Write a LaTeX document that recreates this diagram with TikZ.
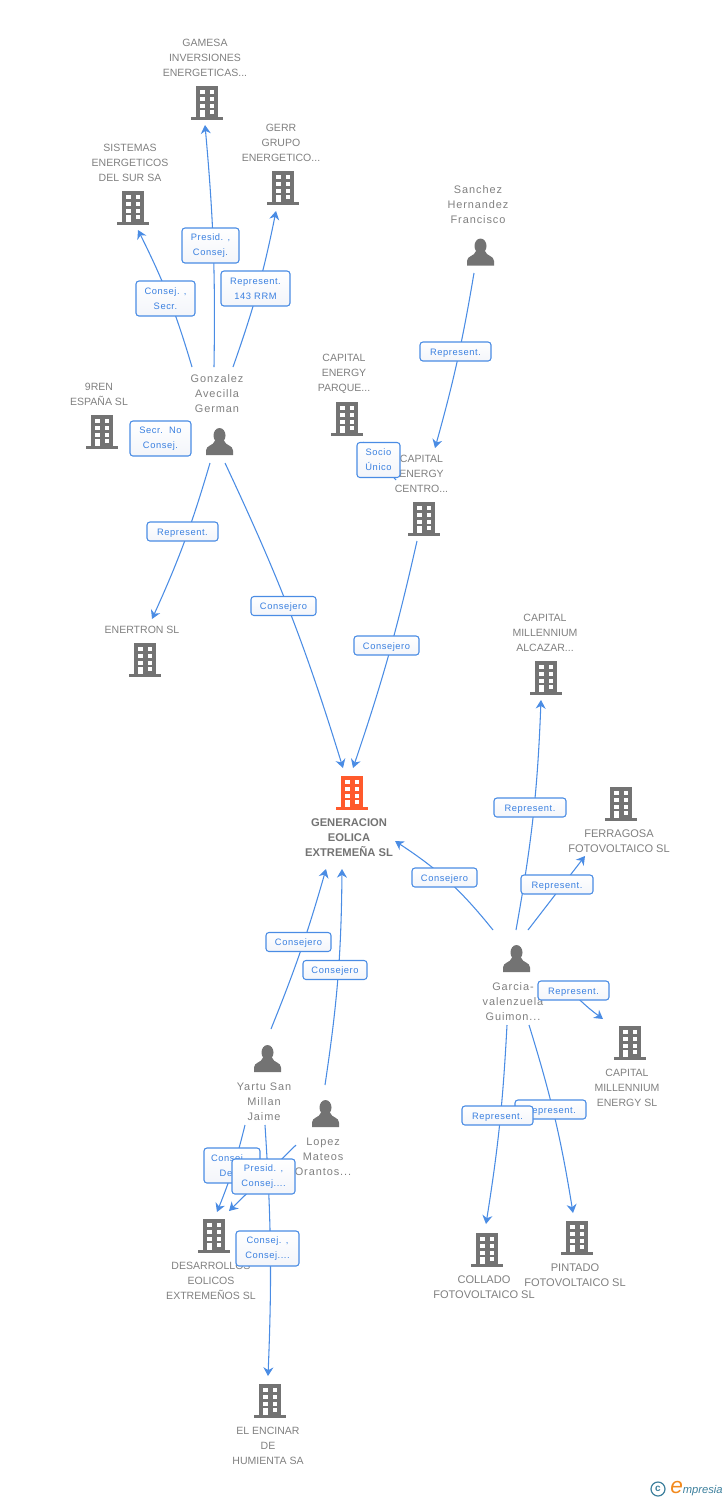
\documentclass[tikz,border=0pt]{standalone}
\usepackage{fontspec}
\setmainfont{Liberation Sans}
\newfontfamily\personfont[LetterSpace=8.5]{Liberation Sans}
\newfontfamily\badgefont[LetterSpace=6]{Liberation Sans}
\usetikzlibrary{arrows.meta}
\definecolor{iconGray}{HTML}{737373}
\definecolor{iconOrange}{HTML}{FF5A2C}
\definecolor{textGray}{HTML}{808080}
\definecolor{linkBlue}{HTML}{4A8CE4}
\definecolor{badgeText}{HTML}{3A80E0}
\definecolor{badgeLow}{HTML}{F3F5FA}
\definecolor{logoTeal}{HTML}{3C7F9C}
\definecolor{logoOrange}{HTML}{F28A1E}
\begin{document}
\begin{tikzpicture}[
    x=0.75pt, y=-0.75pt,
    building/.style={minimum width=24pt, minimum height=25.5pt, inner sep=0pt, outer sep=0pt,
        path picture={
            \fill[#1] (-11,-17) rectangle (11,14);
            \fill[#1] (-16,14) rectangle (16,17);
            \foreach \wy in {-13,-6,0.7} {
                \fill[white] (-7,\wy) rectangle (-2.3,\wy+4);
                \fill[white] (2.7,\wy) rectangle (7.3,\wy+4);
            }
            \fill[white] (2.7,7) rectangle (7.3,11);
            \fill[white] (-7,7) rectangle (-2.3,14);
        }},
    building/.default=iconGray,
    person/.style={minimum width=21pt, minimum height=21pt, inner sep=0pt, outer sep=0pt,
        path picture={
            \fill[iconGray] (0,-6) ellipse (6 and 7.5);
            \fill[iconGray] (-13.5,13.5) -- (-13.5,9) .. controls (-13.5,3.5) and (-6,4.5) .. (-4.5,-1)
                -- (4.5,-1) .. controls (6,4.5) and (13.5,3.5) .. (13.5,9) -- (13.5,13.5) -- cycle;
        }},
    company/.style={align=center, inner sep=0pt, yshift=-0.75pt, text=textGray, font=\fontsize{7.9}{11.25}\selectfont},
    widename/.style={font=\fontsize{8.3}{11.25}\selectfont},
    human/.style={align=center, inner sep=0pt, yshift=-0.75pt, text=textGray, font=\personfont\fontsize{8.2}{11.25}\selectfont},
    badge/.style={draw=linkBlue, line width=0.8pt, rounded corners=2.2pt, top color=white, bottom color=badgeLow,
        align=center, inner sep=0pt, minimum width=#1*0.75pt, minimum height=14.25pt,
        execute at begin node={\rule{0pt}{7.4pt}},
        text=badgeText, font=\badgefont\fontsize{7}{11.25}\selectfont},
    tall/.style={minimum height=26.25pt},
    link/.style={draw=linkBlue, line width=0.8pt, -{Stealth[length=6.5pt, width=7.5pt]}},
    plainlink/.style={draw=linkBlue, line width=0.8pt}
]
    \useasboundingbox (0,0) rectangle (728,1500);

    % icons
    \node[building] (gamesa) at (207,103) {};
    \node[building] (sistemas) at (133,208) {};
    \node[building] (gerr) at (283,188) {};
    \node[building] (nueveren) at (102,432) {};
    \node[building] (parque) at (347,419) {};
    \node[building] (centro) at (424,519) {};
    \node[building] (enertron) at (145,660) {};
    \node[building] (alcazar) at (546,678) {};
    \node[building] (ferragosa) at (621,804) {};
    \node[building=iconOrange] (generacion) at (352,793) {};
    \node[building] (millennium) at (630,1043) {};
    \node[building] (collado) at (487,1250) {};
    \node[building] (pintado) at (577,1238) {};
    \node[building] (desarrollos) at (214,1236) {};
    \node[building] (encinar) at (270,1401) {};
    \node[person] (gonzalez) at (219.5,441.5) {};
    \node[person] (sanchez) at (480.5,252) {};
    \node[person] (garcia) at (516.5,958.5) {};
    \node[person] (yartu) at (267.5,1058.5) {};
    \node[person] (lopez) at (325.5,1113.5) {};

    % names
    \node[company] (gamesaName) at (205,57) {GAMESA\\INVERSIONES\\ENERGETICAS...};
    \node[company] (sistemasName) at (130,162) {SISTEMAS\\ENERGETICOS\\DEL SUR SA};
    \node[company] (gerrName) at (281,142) {GERR\\GRUPO\\ENERGETICO...};
    \node[company] (nueverenName) at (99,393.5) {9REN\\ESPAÑA SL};
    \node[company] (parqueName) at (344,373) {CAPITAL\\ENERGY\\PARQUE...};
    \node[company] (centroName) at (421.5,473) {CAPITAL\\ENERGY\\CENTRO...};
    \node[company] (enertronName) at (142,629) {ENERTRON SL};
    \node[company] (alcazarName) at (545,632) {CAPITAL\\MILLENNIUM\\ALCAZAR...};
    \node[company, widename] (ferragosaName) at (619,840.5) {FERRAGOSA\\FOTOVOLTAICO SL};
    \node[company, text=iconGray, font=\bfseries\fontsize{8.4}{11.25}\selectfont] (generacionName) at (349,837) {GENERACION\\EOLICA\\EXTREMEÑA SL};
    \node[company] (millenniumName) at (627,1087) {CAPITAL\\MILLENNIUM\\ENERGY SL};
    \node[company, widename] (colladoName) at (484,1286.5) {COLLADO\\FOTOVOLTAICO SL};
    \node[company, widename] (pintadoName) at (575,1274.5) {PINTADO\\FOTOVOLTAICO SL};
    \node[company] (desarrollosName) at (211,1280) {DESARROLLOS\\EOLICOS\\EXTREMEÑOS SL};
    \node[company] (encinarName) at (268,1445) {EL ENCINAR\\DE\\HUMIENTA SA};
    \node[human] (gonzalezName) at (217,393) {Gonzalez\\Avecilla\\German};
    \node[human] (sanchezName) at (478,204) {Sanchez\\Hernandez\\Francisco};
    \node[human] (garciaName) at (513,1001) {Garcia-\\valenzuela\\Guimon...};
    \node[human] (yartuName) at (264,1101) {Yartu San\\Millan\\Jaime};
    \node[human] (lopezName) at (323,1156) {Lopez\\Mateos\\Orantos...};

    % free ends of the connectors
    \coordinate (s1) at (214,367);   \coordinate (t1) at (205,125);
    \coordinate (s2) at (192,367);   \coordinate (t2) at (138,230);
    \coordinate (s3) at (233,367);   \coordinate (t3) at (276,211);
    \coordinate (s4) at (210,463);   \coordinate (t4) at (152,619);
    \coordinate (s5) at (225,463);   \coordinate (t5) at (343,768);
    \coordinate (s6) at (474,273);   \coordinate (t6) at (435,448);
    \coordinate (s7) at (396,480);   \coordinate (t7) at (363,442);
    \coordinate (s8) at (417,541);   \coordinate (t8) at (353,768);
    \coordinate (s9) at (493,930);   \coordinate (t9) at (395,841);
    \coordinate (s10) at (516,930);  \coordinate (t10) at (541,700);
    \coordinate (s11) at (528,930);  \coordinate (t11) at (585,856);
    \coordinate (s12) at (570,990);  \coordinate (t12) at (603,1019);
    \coordinate (s13) at (507,1025); \coordinate (t13) at (486,1224);
    \coordinate (s14) at (529,1025); \coordinate (t14) at (573,1213);
    \coordinate (s15) at (271,1029); \coordinate (t15) at (326,869);
    \coordinate (s16) at (325,1085); \coordinate (t16) at (342,869);
    \coordinate (s17) at (245,1125); \coordinate (t17) at (217,1212);
    \coordinate (s18) at (296,1145); \coordinate (t18) at (229,1211);
    \coordinate (s19) at (265,1125); \coordinate (t19) at (268,1376);

    \draw[link] (s1) to[bend right=3] (t1);
    \draw[link] (s2) to[bend right=5] (t2);
    \draw[link] (s3) to[bend right=4] (t3);
    \draw[link] (s4) to[bend left=4] (t4);
    \draw[link] (s5) to[bend left=4] (t5);
    \draw[link] (s6) to[bend left=3] (t6);
    \draw[plainlink] (s7) -- (t7);
    \draw[link] (s8) to[bend left=3] (t8);
    \draw[link] (s9) to[bend right=9] (t9);
    \draw[link] (s10) to[bend right=4] (t10);
    \draw[link] (s11) -- (t11);
    \draw[link] (s12) to[bend right=5] (t12);
    \draw[link] (s13) to[bend left=3] (t13);
    \draw[link] (s14) to[bend left=4] (t14);
    \draw[link] (s15) to[bend right=3] (t15);
    \draw[link] (s16) to[bend right=4] (t16);
    \draw[link] (s17) to[bend left=4] (t17);
    \draw[link] (s18) -- (t18);
    \draw[link] (s19) to[bend left=3] (t19);

    % labels of the connectors
    \node[badge=57, tall] (presidGamesa) at (210.5,245.5) {Presid. ,\\Consej.};
    \node[badge=59, tall] (consejSistemas) at (165.5,298.5) {Consej. ,\\Secr.};
    \node[badge=69, tall] (representGerr) at (255.5,288.5) {Represent.\\143 RRM};
    \node[badge=61, tall] (secrNueveren) at (160.5,438.5) {Secr.~~No\\Consej.};
    \node[badge=71] (representEnertron) at (182.5,531.5) {Represent.};
    \node[badge=65] (consejeroGonzalez) at (283.5,606) {Consejero};
    \node[badge=71] (representCentro) at (455.5,351.5) {Represent.};
    \node[badge=43, tall] (socioParque) at (378.5,460) {Socio\\Único};
    \node[badge=65] (consejeroCentro) at (386.5,645.5) {Consejero};
    \node[badge=72] (representAlcazar) at (530,807.5) {Represent.};
    \node[badge=65] (consejeroGarcia) at (444.5,877.5) {Consejero};
    \node[badge=72] (representFerragosa) at (557,884.5) {Represent.};
    \node[badge=71] (representMillennium) at (573.5,990.5) {Represent.};
    \node[badge=71] (representPintado) at (550.5,1109.5) {Represent.};
    \node[badge=71] (representCollado) at (497.5,1115.5) {Represent.};
    \node[badge=65] (consejeroYartu) at (298.5,942) {Consejero};
    \node[badge=64] (consejeroLopez) at (335,970) {Consejero};
    \node[badge=56, tall] (consejDesarrollos) at (232,1165.5) {Consej. ,\\Del...};
    \node[badge=63, tall] (presidDesarrollos) at (263.5,1176.5) {Presid. ,\\Consej....};
    \node[badge=63, tall] (consejEncinar) at (267.5,1248.5) {Consej. ,\\Consej....};

    % logo
    \node[inner sep=0pt, draw=logoTeal, line width=0.9pt, circle, minimum size=10.5pt, text=logoTeal, font=\bfseries\fontsize{7.5}{8}\selectfont] (logoMark) at (658,1489) {c};
    \node[inner sep=0pt, anchor=base west, text=logoTeal, font=\itshape\fontsize{8.4}{10}\selectfont] (logoName) at (670,1493) {{\color{logoOrange}\fontsize{17}{10}\selectfont e}mpresia};
\end{tikzpicture}
\end{document}
